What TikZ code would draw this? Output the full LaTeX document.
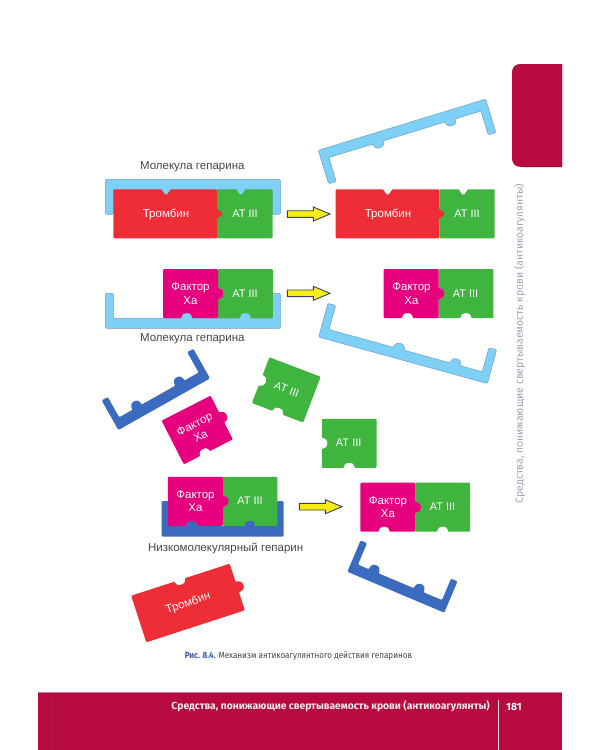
\documentclass[tikz,border=0pt]{standalone}
\usepackage{fontspec}
\setmainfont{Liberation Sans}
\newfontfamily\firafont{Fira Sans}
\newfontfamily\firacond[FakeStretch=0.9]{Fira Sans}
\definecolor{thrombred}{HTML}{EE2D36}
\definecolor{atgreen}{HTML}{3FB53F}
\definecolor{xapink}{HTML}{E6007E}
\definecolor{hepsky}{HTML}{7FD0F7}
\definecolor{hepline}{HTML}{6A9FCE}
\definecolor{hepdeep}{HTML}{3A6BBF}
\definecolor{crimson}{HTML}{B70A3F}
\definecolor{capblue}{HTML}{3A5CA8}
\definecolor{arrowyellow}{HTML}{F7EC13}
\definecolor{arrowline}{HTML}{3A3F6B}
\definecolor{sidegray}{HTML}{9AA5B5}
\tikzset{
  piecefill/.style={fill=#1,rounded corners=1pt},
  piecetext/.style={text=white,font=\fontsize{11.5}{13.3}\selectfont,align=center,inner sep=0pt},
  attext/.style={text=white,font=\fontsize{11}{13}\selectfont,inner sep=0pt},
  caption label/.style={text=black!72,font=\fontsize{11.5}{14}\selectfont,inner sep=0pt},
  hepsoft/.style={fill=hepsky,draw=hepline,line width=0.5pt,rounded corners=1.2pt},
  hepstrong/.style={fill=hepdeep,rounded corners=1.2pt},
  blockarrow/.style={fill=arrowyellow,draw=arrowline,line width=0.9pt,line join=miter}
}
% Round horizontal dent or bump: centre, edge y, running direction, signed depth
\newcommand\hdent[4]{-- ({#1-(#3)*7},#2) .. controls ({#1-(#3)*5},#2) and ({#1-(#3)*5.5},{#2+(#4)}) .. (#1,{#2+(#4)}) .. controls ({#1+(#3)*5.5},{#2+(#4)}) and ({#1+(#3)*5},#2) .. ({#1+(#3)*7},#2)}
% Round vertical dent or bump: centre, edge x, running direction, signed depth
\newcommand\vdent[4]{-- (#2,{#1-(#3)*7}) .. controls (#2,{#1-(#3)*5}) and ({#2+(#4)},{#1-(#3)*5.5}) .. ({#2+(#4)},#1) .. controls ({#2+(#4)},{#1+(#3)*5.5}) and (#2,{#1+(#3)*5}) .. (#2,{#1+(#3)*7})}
% Pointed variants of the same two edges
\newcommand\hvee[4]{-- ({#1-(#3)*6},#2) .. controls ({#1-(#3)*4},#2) and ({#1-(#3)*2},{#2+(#4)}) .. (#1,{#2+(#4)}) .. controls ({#1+(#3)*2},{#2+(#4)}) and ({#1+(#3)*4},#2) .. ({#1+(#3)*6},#2)}
\newcommand\vvee[4]{-- (#2,{#1-(#3)*6}) .. controls (#2,{#1-(#3)*4}) and ({#2+(#4)},{#1-(#3)*2}) .. ({#2+(#4)},#1) .. controls ({#2+(#4)},{#1+(#3)*2}) and (#2,{#1+(#3)*4}) .. (#2,{#1+(#3)*6})}
% Thrombin bound to antithrombin: x, y, rotation, top notch
\newcommand\thrombinpiece[4]{\begin{scope}[shift={(#1,#2)},rotate=#3]
  \fill[piecefill=thrombred] (-51.8,-24.5) \hvee{#4}{-24.5}{1}{5} -- (51.8,-24.5) \vvee{0}{51.8}{1}{5} -- (51.8,24.5) -- (-51.8,24.5) -- cycle;
\end{scope}}
% Thrombin on its own: x, y, rotation, top notch
\newcommand\freethrombin[4]{\begin{scope}[shift={(#1,#2)},rotate=#3]
  \fill[piecefill=thrombred] (-51.8,-24.5) \hdent{#4}{-24.5}{1}{5} -- (51.8,-24.5) \vdent{0}{51.8}{1}{6.5} -- (51.8,24.5) -- (-51.8,24.5) -- cycle;
\end{scope}}
% Factor Xa: x, y, rotation
\newcommand\xapiece[3]{\begin{scope}[shift={(#1,#2)},rotate=#3]
  \fill[piecefill=xapink] (-27.5,-24.5) -- (27.5,-24.5) \vdent{0}{27.5}{1}{5.5} -- (27.5,24.5) \hdent{-3.7}{24.5}{-1}{-5} -- (-27.5,24.5) -- cycle;
\end{scope}}
% Antithrombin seated on thrombin, second notch on top: x, y, rotation, half width, notch
\newcommand\attop[5]{\begin{scope}[shift={(#1,#2)},rotate=#3]
  \fill[piecefill=atgreen] (-#4,-24.5) \hvee{#5}{-24.5}{1}{5} -- (#4,-24.5) -- (#4,24.5) -- (-#4,24.5) -- cycle;
\end{scope}}
% Antithrombin with its second notch below: x, y, rotation, half width, notch
\newcommand\atbottom[5]{\begin{scope}[shift={(#1,#2)},rotate=#3]
  \fill[piecefill=atgreen] (-#4,-24.5) -- (#4,-24.5) -- (#4,24.5) \hdent{#5}{24.5}{-1}{-5} -- (-#4,24.5) \vdent{0}{-#4}{-1}{5.5} -- cycle;
\end{scope}}
% Heparin bracket: origin at the middle of the back, arms along local +y
% style, x, y, rotation, half width, arm width, back thickness, first bump, second bump
\newcommand\hepbracket[9]{\begin{scope}[shift={(#2,#3)},rotate=#4]
  \path[#1] (-#5,0) -- (#5,0) -- (#5,\hepreach) -- ({#5-#6},\hepreach) -- ({#5-#6},#7) \hdent{#8}{#7}{-1}{\hepbump} \hdent{#9}{#7}{-1}{\hepbump} -- ({-#5+#6},#7) -- ({-#5+#6},\hepreach) -- (-#5,\hepreach) -- cycle;
\end{scope}}
\newcommand\lighthep[5]{\def\hepreach{35}\def\hepbump{5.5}\hepbracket{hepsoft}{#1}{#2}{#3}{87.5}{8}{10}{#4}{#5}}
\newcommand\darkhep[6]{\def\hepbump{6.5}\hepbracket{hepstrong}{#1}{#2}{#3}{#4}{7}{10.7}{#5}{#6}}
% Block arrow: left end x, centre y
\newcommand\yellowarrow[2]{\begin{scope}[shift={(#1,#2)}]
  \draw[blockarrow] (0,-3.3) -- (26,-3.3) -- (26,-7) -- (42.7,0) -- (26,7) -- (26,3.3) -- (0,3.3) -- cycle;
\end{scope}}
\begin{document}
\begin{tikzpicture}[x=1pt,y=-1pt]
\useasboundingbox (0,0) rectangle (600,750);
\fill[white] (0,0) rectangle (600,750);

% Side tab and running title
\fill[crimson!85!black] (562,64) -- (522,64) .. controls (515,64) and (512,67) .. (512,74) -- (512,157) .. controls (512,164) and (515,167) .. (522,167) -- (562,167) -- cycle;
\fill[crimson] (562,64) -- (522,64) .. controls (515,64) and (512,67) .. (512,74) -- (512,156) .. controls (512,163) and (515,166) .. (522,166) -- (562,166) -- cycle;
\node[text=sidegray,rotate=90,inner sep=0pt,font=\firafont\fontsize{10.4}{12}\selectfont] (sidetitle) at (519.5,343.5) {Средства, понижающие свертываемость крови (антикоагулянты)};

% Heparin brackets (behind the proteins they carry)
\lighthep{192.8}{179.3}{0}{48.2}{-26.8}
\lighthep{402}{124.7}{17}{47.5}{-28}
\lighthep{192.8}{328.3}{180}{6.1}{-52.2}
\lighthep{403}{360.3}{164.6}{7}{-51.5}
\def\hepreach{34}
\darkhep{164.2}{404.2}{209.4}{52.6}{25}{-24}
\darkhep{395.8}{592.2}{157.1}{52.6}{28.5}{-20.4}
\def\hepreach{35.7}
\darkhep{222.7}{536.7}{180}{61}{31}{-27.3}

% Thrombin with antithrombin
\attop{244.8}{213.8}{0}{27.8}{-3.8}
\thrombinpiece{165.2}{213.8}{0}{0.8}
\attop{467}{213.8}{0}{27.7}{-3.7}
\thrombinpiece{387.5}{213.8}{0}{0.2}
\freethrombin{188}{603}{18}{-0.8}

% Factor Xa with antithrombin
\atbottom{245.4}{293.6}{0}{27.4}{0}
\xapiece{190.5}{293.6}{0}
\atbottom{466}{293.6}{0}{27.4}{0}
\xapiece{411.2}{293.6}{0}
\atbottom{250}{501.3}{0}{27.4}{0}
\xapiece{195.4}{501.3}{0}
\atbottom{442.7}{507.2}{0}{27.4}{0}
\xapiece{387.8}{507.2}{0}

% Pieces set free
\xapiece{197.2}{430}{27}
\atbottom{286.3}{389.9}{-20.8}{27.4}{0}
\atbottom{349.2}{443.3}{0}{27.4}{0}

% Process arrows
\yellowarrow{287.3}{214}
\yellowarrow{287.3}{293.3}
\yellowarrow{299.3}{506.7}

% Protein names
\node[piecetext] (thromb1) at (166,214) {Тромбин};
\node[attext] (atl1) at (245,214) {AT III};
\node[piecetext] (thromb2) at (388,214) {Тромбин};
\node[attext] (atl2) at (467,214) {AT III};
\node[piecetext] (xa1) at (190.5,293.5) {Фактор\\Ха};
\node[attext] (atl3) at (245,293.5) {AT III};
\node[piecetext] (xa2) at (411.5,293.5) {Фактор\\Ха};
\node[attext] (atl4) at (465.5,293.5) {AT III};
\node[piecetext,rotate=27] (xa3) at (197.5,430) {Фактор\\Ха};
\node[attext,rotate=-20.8] (atl5) at (286.7,389.3) {AT III};
\node[attext] (atl6) at (348.7,443) {AT III};
\node[piecetext] (xa4) at (195.5,501) {Фактор\\Ха};
\node[attext] (atl7) at (250,501) {AT III};
\node[piecetext] (xa5) at (388,507) {Фактор\\Ха};
\node[attext] (atl8) at (442.5,507) {AT III};
\node[piecetext,rotate=18] (thromb3) at (188.3,603.3) {Тромбин};

% Bracket names
\node[caption label] (heplabel1) at (192.3,166.3) {Молекула гепарина};
\node[caption label] (heplabel2) at (192.3,338.7) {Молекула гепарина};
\node[caption label] (lmwlabel) at (225.7,548) {Низкомолекулярный гепарин};

% Figure caption
\node[inner sep=0pt,text=black!72,font=\firacond\fontsize{9}{11}\selectfont] (figcaption) at (298.5,655.7) {\textcolor{capblue}{\bfseries Рис. 8.4.} Механизм антикоагулянтного действия гепаринов};

% Footer band with page number
\fill[crimson] (38,692) rectangle (562,750);
\draw[crimson!93!white,line width=0.5pt] (52.5,692) -- (52.5,750);
\draw[crimson!55!white,line width=0.5pt] (38,692) -- (562,692);
\draw[white!85!crimson,line width=0.7pt] (498,700) -- (498,750);
\node[anchor=east,text=white!92!crimson,inner sep=0pt,font=\firafont\bfseries\fontsize{10.3}{12}\selectfont] (foottitle) at (490,706.5) {Средства, понижающие свертываемость крови (антикоагулянты)};
\node[anchor=west,text=white,inner sep=0pt,font=\firafont\bfseries\fontsize{10.5}{12}\selectfont] (pagenum) at (506,706.5) {181};
\end{tikzpicture}
\end{document}
